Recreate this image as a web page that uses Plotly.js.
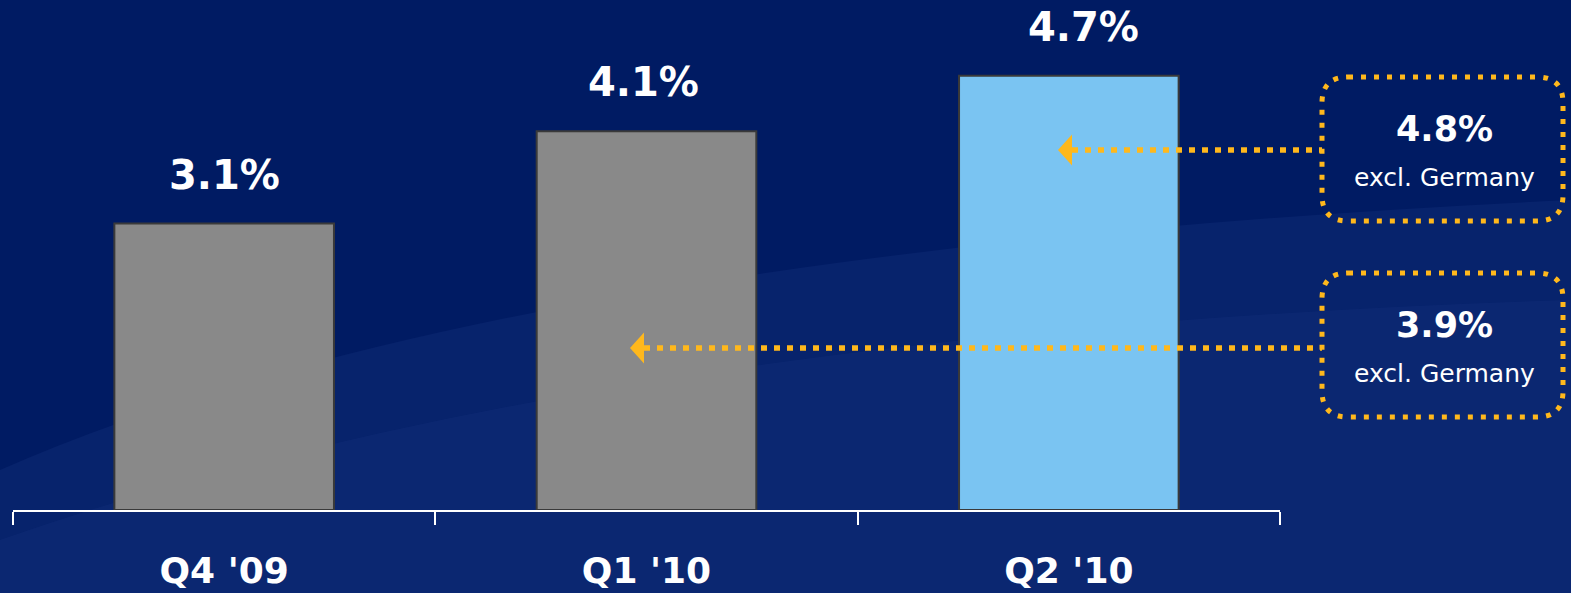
<!DOCTYPE html>
<html>
<head>
<meta charset="utf-8">
<script src="https://cdn.plot.ly/plotly-3.0.1.min.js"></script>
<style>
html,body{margin:0;padding:0;background:#001b63;}
#chart{width:1571px;height:593px;}
</style>
</head>
<body>
<div id="chart"></div>
<script>
const categories = ["Q4 '09", "Q1 '10", "Q2 '10"];
const values = [3.1, 4.1, 4.7];
const valueLabels = ["3.1%", "4.1%", "4.7%"];
const barColors = ["#898989", "#898989", "#7ac4f2"];
const calloutValues = ["4.8%", "3.9%"];
const calloutNote = "excl. Germany";

const W = 1571, H = 593;
const mL = 13, mR = 291, mT = 0, mB = 83;
const pw = W - mL - mR, ph = H - mT - mB;
const px = x => (x - mL) / pw;          // pixel -> paper x
const py = y => (H - mB - y) / ph;       // pixel -> paper y
const orange = "#ffb81c";
const FONT = "DejaVu Sans, Verdana, sans-serif";

function roundRect(x0, y0, x1, y1, r) {
  const rx = r / pw, ry = r / ph;
  const X0 = px(x0), X1 = px(x1), Yt = py(y0), Yb = py(y1);
  return `M${X0 + rx},${Yt} L${X1 - rx},${Yt} Q${X1},${Yt} ${X1},${Yt - ry} ` +
         `L${X1},${Yb + ry} Q${X1},${Yb} ${X1 - rx},${Yb} L${X0 + rx},${Yb} ` +
         `Q${X0},${Yb} ${X0},${Yb + ry} L${X0},${Yt - ry} Q${X0},${Yt} ${X0 + rx},${Yt} Z`;
}
function tri(tipX, tipY, w, h) {
  return `M${px(tipX)},${py(tipY)} L${px(tipX + w)},${py(tipY - h / 2)} L${px(tipX + w)},${py(tipY + h / 2)} Z`;
}

const boxes = [
  {x0: 1322, y0: 77, x1: 1563, y1: 221, arrowY: 150, tipX: 1058},
  {x0: 1322, y0: 273, x1: 1563, y1: 417, arrowY: 348, tipX: 630}
];

const shapes = [
  // background swoosh
  {type: "path", xref: "paper", yref: "paper", layer: "below",
   path: `M${px(0)},${py(593)} L${px(0)},${py(470)} Q${px(500)},${py(250)} ${px(1571)},${py(200)} L${px(1571)},${py(593)} Z`,
   fillcolor: "rgba(40,70,150,0.18)", line: {width: 0}},
  {type: "path", xref: "paper", yref: "paper", layer: "below",
   path: `M${px(0)},${py(593)} L${px(0)},${py(540)} Q${px(600)},${py(330)} ${px(1571)},${py(300)} L${px(1571)},${py(593)} Z`,
   fillcolor: "rgba(40,70,150,0.15)", line: {width: 0}}
];
boxes.forEach(b => {
  shapes.push({type: "path", xref: "paper", yref: "paper", layer: "above",
    path: roundRect(b.x0, b.y0, b.x1, b.y1, 26),
    line: {color: orange, width: 5, dash: "5px,8px"}});
  shapes.push({type: "line", xref: "paper", yref: "paper", layer: "above",
    x0: px(b.tipX + 14), x1: px(b.x0), y0: py(b.arrowY), y1: py(b.arrowY),
    line: {color: orange, width: 5.5, dash: "6px,7px"}});
  shapes.push({type: "path", xref: "paper", yref: "paper", layer: "above",
    path: tri(b.tipX, b.arrowY, 14, 31), fillcolor: orange, line: {width: 0}});
});

const labelShift = [0, -3, 15];
const annotations = categories.map((c, i) => ({
  x: c, y: values[i], xref: "x", yref: "y", text: valueLabels[i],
  showarrow: false, yanchor: "middle", xanchor: "center", yshift: 49, xshift: labelShift[i],
  font: {family: FONT, size: 40, color: "#ffffff", weight: 700}
}));
boxes.forEach((b, i) => {
  const cx = px((b.x0 + b.x1) / 2 + 2);
  annotations.push({xref: "paper", yref: "paper", x: cx, y: py(b.y0 + 52), text: calloutValues[i],
    showarrow: false, yanchor: "middle", xanchor: "center",
    font: {family: FONT, size: 35, color: "#ffffff", weight: 700}});
  annotations.push({xref: "paper", yref: "paper", x: cx, y: py(b.y0 + 100), text: calloutNote,
    showarrow: false, yanchor: "middle", xanchor: "center",
    font: {family: FONT, size: 25, color: "#ffffff"}});
});

const trace = {
  type: "bar", x: categories, y: values, width: 0.52,
  marker: {color: barColors, line: {color: "#3a3a3a", width: 2}},
  hoverinfo: "skip"
};

const layout = {
  width: W, height: H,
  margin: {l: mL, r: mR, t: mT, b: mB, pad: 0},
  paper_bgcolor: "#001b63", plot_bgcolor: "rgba(0,0,0,0)",
  showlegend: false,
  xaxis: {type: "category", showline: true, linecolor: "#ffffff", linewidth: 2,
    ticks: "outside", tickson: "boundaries", ticklen: 13, tickcolor: "#ffffff", tickwidth: 2,
    showgrid: false, zeroline: false, ticklabelstandoff: 28,
    tickfont: {family: FONT, size: 36, color: "#ffffff", weight: 700}},
  yaxis: {range: [0, 5.52], visible: false, showgrid: false, zeroline: false, fixedrange: true},
  shapes: shapes, annotations: annotations
};

Plotly.newPlot("chart", [trace], layout, {displayModeBar: false, staticPlot: true});
</script>
</body>
</html>
